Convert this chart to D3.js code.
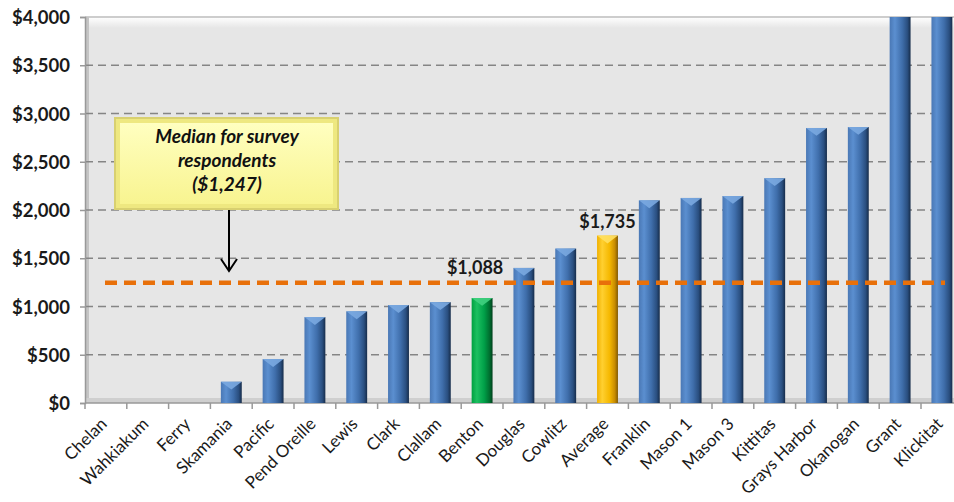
<!DOCTYPE html>
<html>
<head>
<meta charset="utf-8">
<script src="https://cdn.jsdelivr.net/npm/d3@7"></script>
<style>
  body { margin: 0; background: #fff; }
  svg { display: block; }
  .ylab { font-family: Lato, "Open Sans", sans-serif; font-weight: bold; font-size: 18.5px; fill: #1a1a1a; }
  .xlab { font-family: Lato, "Open Sans", sans-serif; font-size: 17px; fill: #1a1a1a; }
  .val { font-family: Lato, "Open Sans", sans-serif; font-weight: bold; font-size: 18px; fill: #1a1a1a; }
  .note { font-family: Lato, "Open Sans", sans-serif; font-weight: bold; font-style: italic; font-size: 19px; fill: #111; }
</style>
</head>
<body>
<div id="chart"></div>
<script>
const categories = ['Chelan', 'Wahkiakum', 'Ferry', 'Skamania', 'Pacific', 'Pend Oreille', 'Lewis', 'Clark',
  'Clallam', 'Benton', 'Douglas', 'Cowlitz', 'Average', 'Franklin', 'Mason 1', 'Mason 3', 'Kittitas',
  'Grays Harbor', 'Okanogan', 'Grant', 'Klickitat']
const values = [0, 0, 0, 220, 455, 890, 950, 1015, 1045, 1088, 1400, 1600, 1735, 2100, 2125, 2145, 2330,
  2850, 2860, 4600, 4700]
const yTicks = [0, 500, 1000, 1500, 2000, 2500, 3000, 3500, 4000]
const median = 1247
const labelled = ['Benton', 'Average']
const noteLines = ['Median for survey', 'respondents', '($1,247)']

const width = 954, height = 502
const plotLeft = 85, plotTop = 17, plotBottom = 403
const step = 41.8

const svg = d3.select('#chart').append('svg').attr('width', width).attr('height', height)
const defs = svg.append('defs')

function hGrad(id, stops) {
  const g = defs.append('linearGradient').attr('id', id).attr('x1', 0).attr('x2', 1).attr('y1', 0).attr('y2', 0)
  stops.forEach(s => g.append('stop').attr('offset', s[0]).attr('stop-color', s[1]))
}
hGrad('gBlue', [[0, '#4a78b5'], [0.25, '#5b8fd0'], [0.6, '#3f6eab'], [0.85, '#2a4f80'], [1, '#162c4a']])
hGrad('gGreen', [[0, '#00a040'], [0.25, '#1cc060'], [0.6, '#00a048'], [0.85, '#007030'], [1, '#00401c']])
hGrad('gGold', [[0, '#f0b000'], [0.25, '#ffd030'], [0.6, '#f5b800'], [0.85, '#c88c00'], [1, '#805800']])
const yg = defs.append('linearGradient').attr('id', 'gNote').attr('x1', 0).attr('x2', 0).attr('y1', 0).attr('y2', 1)
yg.append('stop').attr('offset', 0).attr('stop-color', '#ffffc0')
yg.append('stop').attr('offset', 1).attr('stop-color', '#f8f490')
const wg = defs.append('linearGradient').attr('id', 'gWall').attr('x1', 0).attr('x2', 0).attr('y1', 0).attr('y2', 1)
wg.append('stop').attr('offset', 0).attr('stop-color', '#ffffff')
wg.append('stop').attr('offset', 1).attr('stop-color', '#e6e6e6')
defs.append('clipPath').attr('id', 'plotClip').append('rect')
  .attr('x', plotLeft).attr('y', plotTop).attr('width', width - plotLeft).attr('height', plotBottom - plotTop)

const x = d3.scaleBand().domain(categories).range([plotLeft, plotLeft + step * categories.length])
  .paddingInner(0.5).paddingOuter(0.25)
const y = d3.scaleLinear().domain([0, 4000]).range([plotBottom, plotTop])

// plot area
svg.append('rect').attr('x', plotLeft).attr('y', plotTop).attr('width', width - plotLeft).attr('height', plotBottom - plotTop)
  .attr('fill', '#e6e6e6')
svg.append('rect').attr('x', plotLeft).attr('y', plotTop).attr('width', width - plotLeft).attr('height', 11)
  .attr('fill', 'url(#gWall)')
svg.append('line').attr('x1', plotLeft).attr('x2', width).attr('y1', plotTop).attr('y2', plotTop)
  .attr('stroke', '#bdbdbd').attr('stroke-width', 1.5)
svg.append('rect').attr('x', plotLeft).attr('y', plotTop).attr('width', 4).attr('height', plotBottom - plotTop)
  .attr('fill', '#c4c4c4')
svg.append('rect').attr('x', plotLeft).attr('y', plotBottom - 5).attr('width', width - plotLeft).attr('height', 5)
  .attr('fill', '#cfcfcf')

// gridlines
svg.append('g').selectAll('line').data(yTicks.filter(d => d > 0 && d < 4000)).enter().append('line')
  .attr('x1', plotLeft).attr('x2', width).attr('y1', d => y(d)).attr('y2', d => y(d))
  .attr('stroke', '#858585').attr('stroke-width', 1.7).attr('stroke-dasharray', '8 5')

// y axis
const yAxis = svg.append('g').attr('transform', `translate(${plotLeft},0)`)
  .call(d3.axisLeft(y).tickValues(yTicks).tickSize(5).tickPadding(10).tickFormat(d => '$' + d3.format(',')(d)))
yAxis.select('.domain').attr('stroke', '#999').attr('stroke-width', 1.5)
yAxis.selectAll('.tick line').attr('stroke', '#999').attr('stroke-width', 1.5)
yAxis.selectAll('text').attr('class', 'ylab').attr('dy', '0.36em')

// x axis line and ticks between categories
svg.append('line').attr('x1', plotLeft).attr('x2', width).attr('y1', plotBottom).attr('y2', plotBottom)
  .attr('stroke', '#999').attr('stroke-width', 1.5)
svg.append('g').selectAll('line').data(categories).enter().append('line')
  .attr('x1', d => x(d) - x.step() * 0.25).attr('x2', d => x(d) - x.step() * 0.25)
  .attr('y1', plotBottom).attr('y2', plotBottom + 6)
  .attr('stroke', '#999').attr('stroke-width', 1.5)

// bars
function fillFor(c) {
  if (c === 'Benton') return 'url(#gGreen)'
  if (c === 'Average') return 'url(#gGold)'
  return 'url(#gBlue)'
}
function capFor(c) {
  if (c === 'Benton') return '#40d080'
  if (c === 'Average') return '#ffe060'
  return '#7aa8e0'
}
const bars = svg.append('g').attr('clip-path', 'url(#plotClip)')
const bw = x.bandwidth()
const shown = categories.filter((c, i) => values[i] > 0)
const val = c => values[categories.indexOf(c)]
bars.selectAll('rect').data(shown).enter().append('rect')
  .attr('x', c => x(c)).attr('width', bw)
  .attr('y', c => y(val(c)))
  .attr('height', c => plotBottom - y(val(c)))
  .attr('fill', c => fillFor(c))
bars.selectAll('path').data(shown.filter(c => val(c) < 4000)).enter().append('path')
  .attr('d', c => {
    const x0 = x(c), y0 = y(val(c))
    return `M${x0},${y0}L${x0 + bw},${y0}L${x0 + bw / 2},${y0 + Math.min(bw / 2, plotBottom - y0) * 0.75}Z`
  })
  .attr('fill', c => capFor(c)).attr('opacity', 0.9)

// median line
svg.append('line').attr('x1', 105).attr('x2', 945).attr('y1', y(median)).attr('y2', y(median))
  .attr('stroke', '#e8700a').attr('stroke-width', 4.5).attr('stroke-dasharray', '12 7')

// value labels
svg.append('g').selectAll('text').data(labelled).enter().append('text')
  .attr('class', 'val').attr('text-anchor', 'middle')
  .attr('x', c => x(c) + bw / 2 - (c === 'Benton' ? 7 : 0))
  .attr('y', c => y(val(c)) - (c === 'Benton' ? 24 : 8))
  .text(c => '$' + d3.format(',')(val(c)))

// callout
const note = svg.append('g')
note.append('rect').attr('x', 114).attr('y', 117).attr('width', 225).attr('height', 93).attr('fill', '#d8d070')
note.append('rect').attr('x', 116).attr('y', 119).attr('width', 221).attr('height', 89).attr('fill', '#eee880')
note.append('rect').attr('x', 120).attr('y', 123).attr('width', 213).attr('height', 81).attr('fill', 'url(#gNote)')
note.selectAll('text').data(noteLines).enter().append('text')
  .attr('class', 'note').attr('text-anchor', 'middle').attr('x', 227).attr('y', (d, i) => 143 + i * 24)
  .text(d => d)
note.append('line').attr('x1', 229).attr('x2', 229).attr('y1', 210).attr('y2', 270)
  .attr('stroke', '#000').attr('stroke-width', 2)
note.append('path').attr('d', 'M221,259L229,271L237,259').attr('fill', 'none')
  .attr('stroke', '#000').attr('stroke-width', 2)

// category labels
svg.append('g').selectAll('text').data(categories).enter().append('text')
  .attr('class', 'xlab').attr('text-anchor', 'end')
  .attr('transform', c => `translate(${x(c) + bw / 2 + 2},${plotBottom + 22}) rotate(-45)`)
  .text(c => c)
</script>
</body>
</html>
